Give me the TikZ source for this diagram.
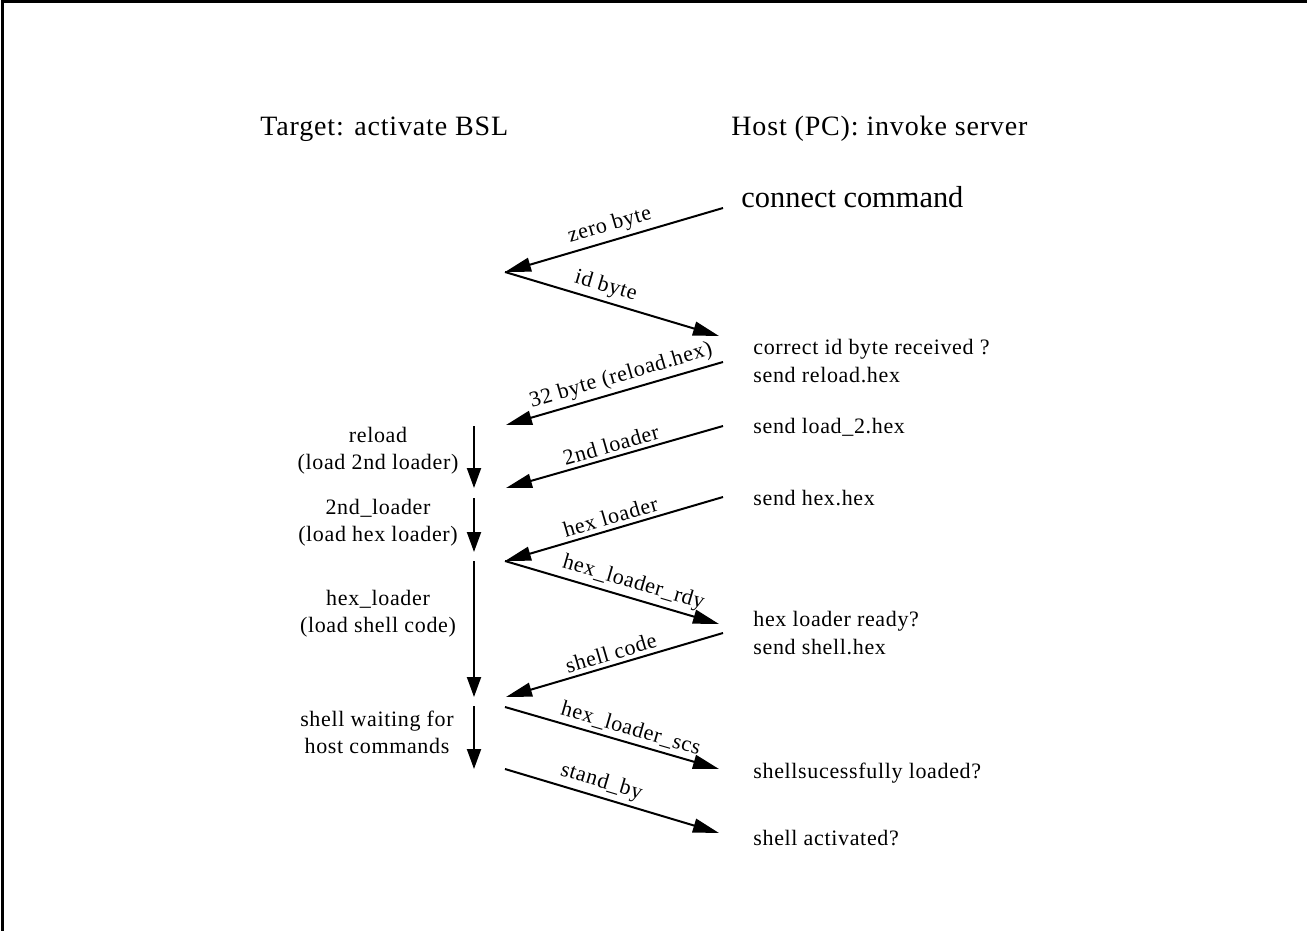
\documentclass[tikz,border=0pt]{standalone}
\usepackage{fontspec}
\setmainfont[LetterSpace=3]{Liberation Serif}
\newfontfamily\cmdfont{Liberation Serif}
\usetikzlibrary{arrows.meta}

\begin{document}
\begin{tikzpicture}[
  x=0.5pt, y=-0.5pt,
  head/.style={font=\fontsize{14}{17}\selectfont, anchor=base west, inner sep=0pt},
  cmd/.style={font=\cmdfont\fontsize{15.2}{18}\selectfont, anchor=base west, inner sep=0pt},
  note/.style={font=\fontsize{11}{13.8}\selectfont, align=left, inner sep=0pt},
  state/.style={font=\fontsize{11}{13.5}\selectfont, align=center, inner sep=0pt},
  lbl/.style={font=\fontsize{11}{13}\selectfont, sloped, above, inner sep=2pt},
  msg/.style={draw, line width=1pt, -{Triangle[length=13pt, width=7pt]}},
  phase/.style={draw, line width=1pt, -{Triangle[length=10pt, width=7pt]}}
]
  \useasboundingbox (0,0) rectangle (1307,931);
  \draw[line width=1.5pt] (2,931) -- (2,2) -- (1307,2);

  % titles
  \node[head] (target) at (260,135) {Target: activate BSL};
  \node[head] (host) at (731,135) {Host (PC): invoke server};
  \node[cmd] (conn) at (741,207) {connect command};

  % host side
  \coordinate (h1) at (723,208);
  \coordinate (h2) at (719,336);
  \coordinate (h3) at (723,362);
  \coordinate (h4) at (723,426);
  \coordinate (h5) at (723,497);
  \coordinate (h6) at (719,624);
  \coordinate (h7) at (723,633);
  \coordinate (h8) at (719,769);
  \coordinate (h9) at (719,833);
  % target side
  \coordinate (t1) at (505,272);
  \coordinate (t2) at (506,425);
  \coordinate (t3) at (506,488);
  \coordinate (t4) at (505,561);
  \coordinate (t5) at (506,697);
  \coordinate (t6) at (505,707);
  \coordinate (t7) at (505,769);

  \draw[msg] (h1) -- node[lbl]{zero byte} (t1);
  \draw[msg] (t1) -- node[lbl, pos=0.45]{id byte} (h2);
  \draw[msg] (h3) -- node[lbl, pos=0.45]{32 byte (reload.hex)} (t2);
  \draw[msg] (h4) -- node[lbl]{2nd loader} (t3);
  \draw[msg] (h5) -- node[lbl]{hex loader} (t4);
  \draw[msg] (t4) -- node[lbl, pos=0.58]{hex\_loader\_rdy} (h6);
  \draw[msg] (h7) -- node[lbl]{shell code} (t5);
  \draw[msg] (t6) -- node[lbl, pos=0.57]{hex\_loader\_scs} (h8);
  \draw[msg] (t7) -- node[lbl, pos=0.43]{stand\_by} (h9);

  % host notes
  \node[note, anchor=west] (n1) at (753,361) {correct id byte received ?\\send reload.hex};
  \node[note, anchor=base west] (n2) at (753,433) {send load\_2.hex};
  \node[note, anchor=base west] (n3) at (753,505) {send hex.hex};
  \node[note, anchor=west] (n4) at (753,633) {hex loader ready?\\send shell.hex};
  \node[note, anchor=base west] (n5) at (753,778) {shellsucessfully loaded?};
  \node[note, anchor=base west] (n6) at (753,845) {shell activated?};

  % target states
  \node[state] (s1) at (378,451) {reload\\(load 2nd loader)};
  \node[state] (s2) at (378,523) {2nd\_loader\\(load hex loader)};
  \node[state] (s3) at (378,614) {hex\_loader\\(load shell code)};
  \node[state] (s4) at (377,732) {shell waiting for\\host commands};
  \coordinate (v1) at (474,426);
  \coordinate (v2) at (474,488);
  \coordinate (v3) at (474,498);
  \coordinate (v4) at (474,552);
  \coordinate (v5) at (474,561);
  \coordinate (v6) at (474,697);
  \coordinate (v7) at (474,706);
  \coordinate (v8) at (474,769);
  \foreach \a/\b in {v1/v2, v3/v4, v5/v6, v7/v8} \draw[phase] (\a) -- (\b);
\end{tikzpicture}
\end{document}
